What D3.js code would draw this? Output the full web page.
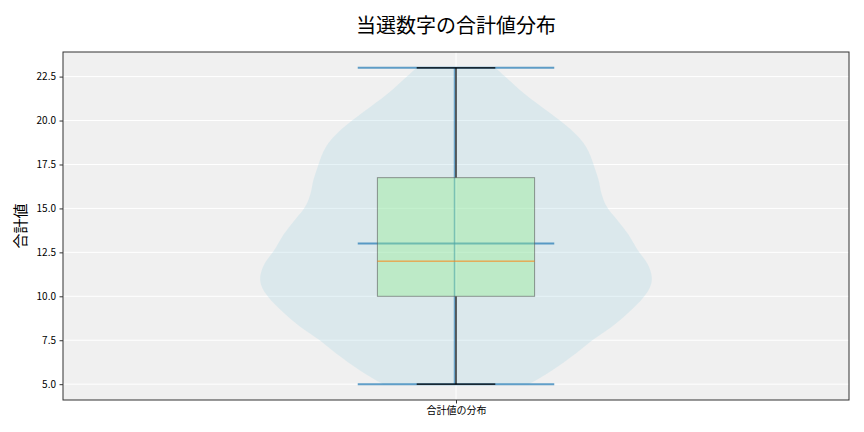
<!DOCTYPE html>
<html>
<head>
<meta charset="utf-8">
<script src="https://cdn.jsdelivr.net/npm/d3@7"></script>
<style>
  body { margin: 0; background: #fff; }
  text { font-family: "Noto Sans CJK JP", "Noto Sans", sans-serif; }
</style>
</head>
<body>
<script>
// density outline of the violin (relative width, 1 = widest)
const violinY = [5.0, 5.5, 6.0, 6.5, 7.0, 7.5, 8.0, 8.5, 9.0, 9.5, 10.0, 10.5, 11.0, 11.5, 12.0,
                 12.5, 13.0, 13.5, 14.0, 14.5, 15.0, 15.5, 16.0, 16.5, 17.0, 17.5, 18.0, 18.5,
                 19.0, 19.5, 20.0, 20.5, 21.0, 21.5, 22.0, 22.5, 23.0];
const violinDensity = [0.37, 0.45, 0.52, 0.58, 0.64, 0.69, 0.76, 0.82, 0.87, 0.92, 0.96, 0.99, 1.0, 0.99, 0.97,
                       0.93, 0.905, 0.88, 0.845, 0.81, 0.77, 0.75, 0.735, 0.73, 0.715, 0.70, 0.685, 0.665,
                       0.63, 0.585, 0.53, 0.47, 0.41, 0.35, 0.30, 0.25, 0.20];

// summary stats
const minVal = 5, maxVal = 23, meanVal = 13;
const q1 = 10, medianVal = 12, q3 = 16.75;

const yTicks = [5.0, 7.5, 10.0, 12.5, 15.0, 17.5, 20.0, 22.5];
const category = '合計値の分布';

const width = 864, height = 432;
const margin = {top: 52, right: 15, bottom: 32, left: 63};

const svg = d3.select('body')
              .append('svg')
              .attr('width', width)
              .attr('height', height);

const x = d3.scaleLinear()
            .domain([0.5, 1.5])
            .range([margin.left, width - margin.right]);

const y = d3.scaleLinear()
            .domain([4.1, 23.9])
            .range([height - margin.bottom, margin.top]);

// plot background
svg.append('rect')
  .attr('x', margin.left)
  .attr('y', margin.top)
  .attr('width', width - margin.left - margin.right)
  .attr('height', height - margin.top - margin.bottom)
  .attr('fill', '#f0f0f0');

// grid
svg.append('g')
  .selectAll('line')
  .data(yTicks)
  .enter()
  .append('line')
  .attr('x1', margin.left)
  .attr('x2', width - margin.right)
  .attr('y1', (d) => y(d))
  .attr('y2', (d) => y(d))
  .attr('stroke', '#fff')
  .attr('stroke-width', 1);

svg.append('line')
  .attr('x1', x(1)).attr('x2', x(1))
  .attr('y1', margin.top).attr('y2', height - margin.bottom)
  .attr('stroke', '#fff')
  .attr('stroke-width', 1);

// violin, max half width = 0.25 x-units
const halfW = (d) => x(1 + d * 0.25) - x(1);
const pts = violinY.map((v, i) => [v, violinDensity[i]]);

const area = d3.area()
  .curve(d3.curveBasis)
  .y((d) => y(d[0]))
  .x0((d) => x(1) - halfW(d[1]))
  .x1((d) => x(1) + halfW(d[1]));

svg.append('path')
  .datum(pts)
  .attr('d', area)
  .attr('fill', '#add8e6')
  .attr('fill-opacity', 0.3);

// violin lines: center bar, extrema and mean
const vLineHalf = x(1.125) - x(1);
svg.append('line')
  .attr('x1', x(1) - 1.5).attr('x2', x(1) - 1.5)
  .attr('y1', y(minVal)).attr('y2', y(maxVal))
  .attr('stroke', '#1f77b4')
  .attr('stroke-opacity', 0.6)
  .attr('stroke-width', 1.5);

svg.append('g')
  .selectAll('line')
  .data([minVal, maxVal, meanVal])
  .enter()
  .append('line')
  .attr('x1', x(1) - vLineHalf)
  .attr('x2', x(1) + vLineHalf)
  .attr('y1', (d) => y(d))
  .attr('y2', (d) => y(d))
  .attr('stroke', '#1f77b4')
  .attr('stroke-opacity', 0.7)
  .attr('stroke-width', 2);

// box plot
const boxHalf = x(1.1) - x(1);
const capHalf = x(1.05) - x(1);

svg.append('line')
  .attr('x1', x(1)).attr('x2', x(1))
  .attr('y1', y(q3)).attr('y2', y(maxVal))
  .attr('stroke', '#000')
  .attr('stroke-width', 1.2);

svg.append('line')
  .attr('x1', x(1)).attr('x2', x(1))
  .attr('y1', y(q1)).attr('y2', y(minVal))
  .attr('stroke', '#000')
  .attr('stroke-width', 1.2);

svg.append('g')
  .selectAll('line')
  .data([minVal, maxVal])
  .enter()
  .append('line')
  .attr('x1', x(1) - capHalf)
  .attr('x2', x(1) + capHalf)
  .attr('y1', (d) => y(d))
  .attr('y2', (d) => y(d))
  .attr('stroke', '#000')
  .attr('stroke-width', 1.2);

svg.append('rect')
  .attr('x', x(1) - boxHalf)
  .attr('y', y(q3))
  .attr('width', boxHalf * 2)
  .attr('height', y(q1) - y(q3))
  .attr('fill', '#90ee90')
  .attr('fill-opacity', 0.4)
  .attr('stroke', '#555')
  .attr('stroke-opacity', 0.6)
  .attr('stroke-width', 1);

svg.append('line')
  .attr('x1', x(1) - boxHalf).attr('x2', x(1) + boxHalf)
  .attr('y1', y(medianVal)).attr('y2', y(medianVal))
  .attr('stroke', '#ff7f0e')
  .attr('stroke-opacity', 0.9)
  .attr('stroke-width', 1);

// axes
const yAxis = d3.axisLeft(y)
  .tickValues(yTicks)
  .tickFormat(d3.format('.1f'))
  .tickSize(3.5)
  .tickPadding(3.5);

const gy = svg.append('g')
  .attr('transform', 'translate(' + margin.left + ', 0)')
  .call(yAxis);
gy.select('.domain').remove();
gy.selectAll('text').attr('font-size', 10).attr('fill', '#000')
  .style('font-family', '"Noto Sans CJK JP", sans-serif');
gy.selectAll('line').attr('stroke', '#333');

const xAxis = d3.axisBottom(x)
  .tickValues([1])
  .tickFormat(() => category)
  .tickSize(3.5)
  .tickPadding(3.5);

const gx = svg.append('g')
  .attr('transform', 'translate(0, ' + (height - margin.bottom) + ')')
  .call(xAxis);
gx.select('.domain').remove();
gx.selectAll('text').attr('font-size', 10).attr('fill', '#000')
  .style('font-family', '"Noto Sans CJK JP", sans-serif');
gx.selectAll('line').attr('stroke', '#333');

// frame
svg.append('rect')
  .attr('x', margin.left)
  .attr('y', margin.top)
  .attr('width', width - margin.left - margin.right)
  .attr('height', height - margin.top - margin.bottom)
  .attr('fill', 'none')
  .attr('stroke', '#333')
  .attr('stroke-width', 1);

// titles
svg.append('text')
  .attr('x', x(1))
  .attr('y', 33)
  .attr('text-anchor', 'middle')
  .attr('font-size', 20)
  .text('当選数字の合計値分布');

svg.append('text')
  .attr('transform', 'rotate(-90)')
  .attr('x', -(margin.top + (height - margin.top - margin.bottom) / 2))
  .attr('y', 26)
  .attr('text-anchor', 'middle')
  .attr('font-size', 15)
  .text('合計値');
</script>
</body>
</html>
